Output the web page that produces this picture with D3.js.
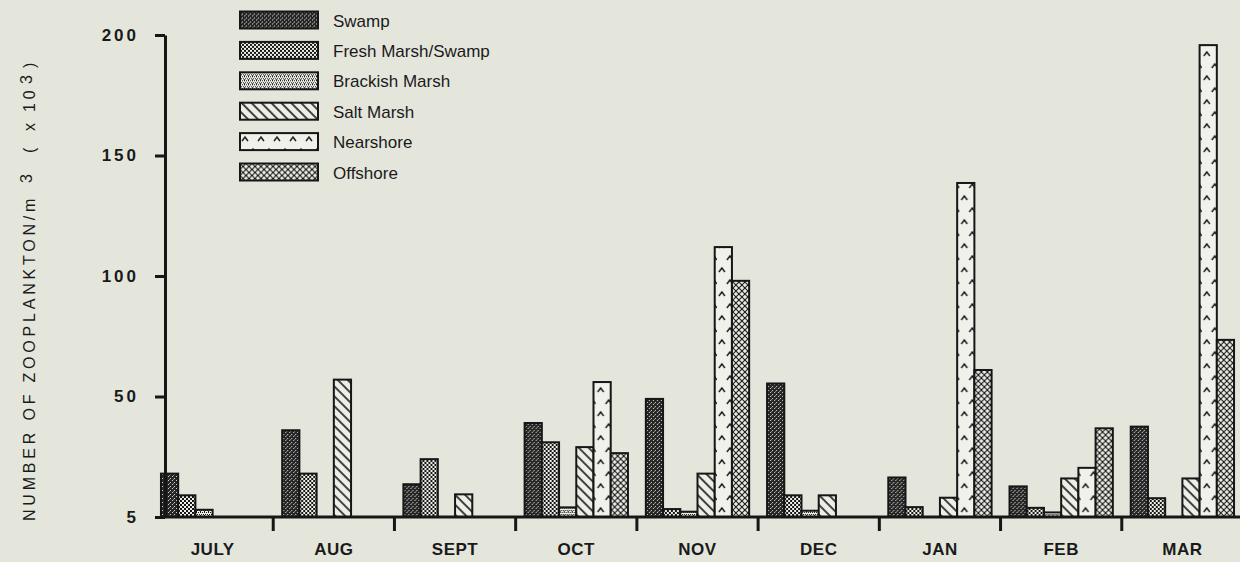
<!DOCTYPE html>
<html>
<head>
<meta charset="utf-8">
<script src="https://cdn.jsdelivr.net/npm/d3@7"></script>
<style>
  html, body { margin: 0; padding: 0; background: #e4e6dc; }
  svg { display: block; }
  text { font-family: "Liberation Sans", Arial, Helvetica, sans-serif; fill: #1a1a1a; }
</style>
</head>
<body>
<svg id="chart" width="1240" height="562"></svg>
<script>
// Monthly zooplankton density (thousands per cubic metre) by habitat
const months = ["JULY", "AUG", "SEPT", "OCT", "NOV", "DEC", "JAN", "FEB", "MAR"];
const seriesNames = ["Swamp", "Fresh Marsh/Swamp", "Brackish Marsh", "Salt Marsh", "Nearshore", "Offshore"];
const swamp         = [18, 36, 13.6, 39, 49, 55.4, 16.4, 12.7, 37.5];
const freshMarsh    = [9, 18, 24, 31, 3.3, 9, 4.1, 3.8, 7.8];
const brackishMarsh = [3, 0, 0, 4, 2.2, 2.6, 0, 1.9, 0];
const saltMarsh     = [0, 57, 9.4, 29, 18, 9, 8, 16, 16];
const nearshore     = [0, 0, 0, 56, 112, 0, 138.6, 20.4, 195.8];
const offshore      = [0, 0, 0, 26.5, 98, 0, 61, 36.8, 73.5];
const yTickValues = [0, 50, 100, 150, 200];
const yTickLabels = ["5", "50", "100", "150", "200"];

const seriesValues = [swamp, freshMarsh, brackishMarsh, saltMarsh, nearshore, offshore];
const patternIds = ["p-swamp", "p-fresh", "p-brackish", "p-salt", "p-near", "p-off"];

const ink = "#161616";
const fontStack = "'Liberation Sans', Arial, Helvetica, sans-serif";
const svg = d3.select("#chart");
const defs = svg.append("defs");

function pattern(id, w, h) {
  return defs.append("pattern").attr("id", id)
    .attr("patternUnits", "userSpaceOnUse").attr("width", w).attr("height", h);
}

// Swamp: dark stipple
{
  const p = pattern("p-swamp", 4, 4);
  p.append("rect").attr("width", 4).attr("height", 4).attr("fill", "#262626");
  p.append("rect").attr("x", 0).attr("y", 0).attr("width", 1).attr("height", 1).attr("fill", "#d0d0c8");
  p.append("rect").attr("x", 2).attr("y", 2).attr("width", 1).attr("height", 1).attr("fill", "#d0d0c8");
  p.append("rect").attr("x", 1).attr("y", 3).attr("width", 1).attr("height", 1).attr("fill", "#8a8a84");
}
// Fresh marsh/swamp: medium checker stipple
{
  const p = pattern("p-fresh", 4, 4);
  p.append("rect").attr("width", 4).attr("height", 4).attr("fill", "#efefe9");
  p.append("rect").attr("x", 0).attr("y", 0).attr("width", 2).attr("height", 2).attr("fill", ink);
  p.append("rect").attr("x", 2).attr("y", 2).attr("width", 2).attr("height", 2).attr("fill", ink);
}
// Brackish marsh: lighter fine stipple
{
  const p = pattern("p-brackish", 4, 4);
  p.append("rect").attr("width", 4).attr("height", 4).attr("fill", "#efefe9");
  [[0, 0], [2, 0], [1, 2], [3, 2], [0, 3]].forEach(([x, y]) =>
    p.append("rect").attr("x", x).attr("y", y).attr("width", 1).attr("height", 1).attr("fill", ink));
}
// Salt marsh: back-slash hatching
{
  const p = pattern("p-salt", 7, 7).attr("patternTransform", "rotate(-45)");
  p.append("rect").attr("width", 7).attr("height", 7).attr("fill", "#eeeee8");
  p.append("line").attr("x1", 1).attr("y1", 0).attr("x2", 1).attr("y2", 7)
    .attr("stroke", ink).attr("stroke-width", 1.6);
}
// Nearshore: scattered caret marks
{
  const p = pattern("p-near", 16, 24);
  p.append("rect").attr("width", 16).attr("height", 24).attr("fill", "#f1f1ec");
  p.append("path").attr("d", "M2,8 L5,4 L8,8 M10,20 L13,16 L16,20")
    .attr("fill", "none").attr("stroke", ink).attr("stroke-width", 1.4);
}
// Offshore: diagonal cross-hatch
{
  const p = pattern("p-off", 6, 6);
  p.append("rect").attr("width", 6).attr("height", 6).attr("fill", "#eeeee8");
  p.append("path").attr("d", "M0,0 L6,6 M6,0 L0,6")
    .attr("fill", "none").attr("stroke", ink).attr("stroke-width", 1.1);
}

// Scales
const x0 = d3.scaleBand().domain(months).range([152, 1243]).padding(0);
const x1 = d3.scaleBand().domain(seriesNames).range([0, x0.bandwidth()]).paddingInner(0).paddingOuter(0.52);
const y = d3.scaleLinear().domain([0, 200]).range([517, 35]);

// Bars
const groups = svg.append("g").selectAll("g")
  .data(months)
  .join("g")
  .attr("transform", d => `translate(${x0(d)},0)`);

groups.selectAll("rect")
  .data((m, mi) => seriesNames.map((s, si) => ({ s, si, v: seriesValues[si][mi] })).filter(d => d.v > 0))
  .join("rect")
  .attr("x", d => x1(d.s))
  .attr("width", x1.bandwidth())
  .attr("y", d => y(d.v))
  .attr("height", d => y(0) - y(d.v))
  .attr("fill", d => `url(#${patternIds[d.si]})`)
  .attr("stroke", ink)
  .attr("stroke-width", 2);

// Y axis
const yAxis = svg.append("g")
  .attr("transform", "translate(165,0)")
  .call(d3.axisLeft(y).tickValues(yTickValues)
    .tickFormat((d, i) => yTickLabels[i])
    .tickSize(10).tickSizeOuter(0).tickPadding(16));
yAxis.select(".domain").attr("stroke", ink).attr("stroke-width", 3);
yAxis.selectAll(".tick line").attr("stroke", ink).attr("stroke-width", 3);
yAxis.selectAll(".tick text")
  .attr("fill", ink)
  .style("font-size", "17px").style("font-weight", "bold").style("letter-spacing", "3px")
  .style("font-family", fontStack);

// X axis: baseline, month separators and month labels
const xAxis = svg.append("g")
  .attr("transform", "translate(0,517)")
  .call(d3.axisBottom(x0).tickSize(0).tickPadding(26));
xAxis.select(".domain").remove();
xAxis.selectAll(".tick text")
  .attr("fill", ink)
  .style("font-size", "17px").style("font-weight", "bold").style("letter-spacing", "0.5px")
  .style("font-family", fontStack);

svg.append("line")
  .attr("x1", 162).attr("x2", 1240).attr("y1", y(0)).attr("y2", y(0))
  .attr("stroke", ink).attr("stroke-width", 3);

svg.append("g").selectAll("line")
  .data(months.slice(0, -1))
  .join("line")
  .attr("x1", d => x0(d) + x0.bandwidth()).attr("x2", d => x0(d) + x0.bandwidth())
  .attr("y1", y(0)).attr("y2", y(0) + 14)
  .attr("stroke", ink).attr("stroke-width", 3);

// Y axis title with superscripts
const title = svg.append("text")
  .attr("transform", "translate(35,521) rotate(-90)")
  .style("font-size", "16px")
  .style("letter-spacing", "3.8px")
  .attr("fill", "#1e1e1e");
title.append("tspan").attr("x", 0).text("NUMBER OF ZOOPLANKTON/m");
title.append("tspan").attr("x", 338).attr("dy", -3).text("3");
title.append("tspan").attr("x", 368).attr("dy", 3).text("(");
title.append("tspan").attr("x", 390).text("x");
title.append("tspan").attr("x", 409).text("10");
title.append("tspan").attr("x", 437).attr("dy", -3).text("3");
title.append("tspan").attr("x", 453).attr("dy", 3).text(")");

// Legend
const legend = svg.append("g").selectAll("g")
  .data(seriesNames)
  .join("g")
  .attr("transform", (d, i) => `translate(240,${11.5 + i * 30.4})`);
legend.append("rect")
  .attr("width", 78).attr("height", 17)
  .attr("fill", (d, i) => `url(#${patternIds[i]})`)
  .attr("stroke", ink).attr("stroke-width", 2);
legend.append("text")
  .attr("x", 93).attr("y", 15)
  .style("font-size", "17px")
  .text(d => d);
</script>
</body>
</html>
